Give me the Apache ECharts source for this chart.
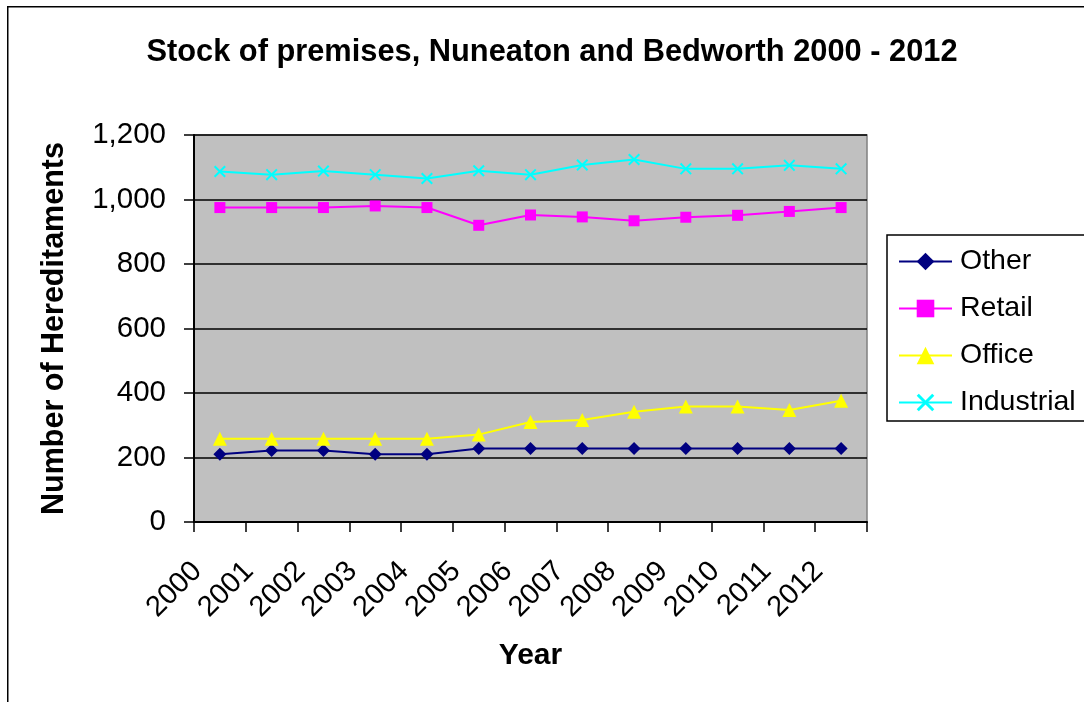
<!DOCTYPE html>
<html>
<head>
<meta charset="utf-8">
<script src="https://cdn.jsdelivr.net/npm/echarts@6/dist/echarts.min.js"></script>
<style>
html,body{margin:0;padding:0;background:#fff;}
#chart{width:1084px;height:702px;}
</style>
</head>
<body>
<div id="chart"></div>
<script>
var years = ['2000','2001','2002','2003','2004','2005','2006','2007','2008','2009','2010','2011','2012'];
var other = [210, 222, 222, 210, 210, 228, 228, 228, 228, 228, 228, 228, 228];
var retail = [975, 975, 975, 980, 975, 920, 952, 946, 934, 945, 951, 963, 975];
var office = [258, 258, 258, 258, 258, 271, 310, 316, 342, 358, 358, 347, 376];
var industrial = [1087, 1077, 1088, 1077, 1065, 1089, 1077, 1107, 1124, 1095, 1095, 1106, 1095];
var yTicks = [0, 200, 400, 600, 800, 1000, 1200];

var FONT = 'Liberation Sans, Arial, sans-serif';
var crossPath = 'path://M0,1.2L1.2,0L5,3.8L8.8,0L10,1.2L6.2,5L10,8.8L8.8,10L5,6.2L1.2,10L0,8.8L3.8,5Z';

var chart = echarts.init(document.getElementById('chart'), null, {renderer: 'canvas'});
function mk(name, data, color, symbol, size) {
  return {
    name: name, type: 'line', data: data,
    symbol: symbol, symbolSize: size, showAllSymbol: true,
    lineStyle: {color: color, width: 2},
    itemStyle: {color: color},
    emphasis: {disabled: true},
    animation: false
  };
}
chart.setOption({
  animation: false,
  textStyle: {fontFamily: FONT},
  graphic: [{
    type: 'rect', left: 7, top: 6, z: -10,
    shape: {width: 1200, height: 800},
    style: {fill: '#ffffff', stroke: '#000000', lineWidth: 1.5}
  }],
  title: {
    text: 'Stock of premises, Nuneaton and Bedworth 2000 - 2012',
    left: 547, top: 32, textAlign: 'center',
    textStyle: {fontFamily: FONT, fontSize: 30.8, fontWeight: 'bold', color: '#000'}
  },
  legend: {
    orient: 'vertical',
    left: 887, top: 235,
    padding: [12, 16, 4, 11],
    itemWidth: 53, itemHeight: 22, itemGap: 18,
    borderColor: '#000', borderWidth: 1.5,
    backgroundColor: '#fff',
    textStyle: {fontFamily: FONT, fontSize: 28.5, color: '#000', lineHeight: 28, padding: [0, 0, 0, 3]},
    data: ['Other', 'Retail', 'Office', 'Industrial']
  },
  grid: {
    left: 194, right: 217, top: 135, bottom: 180,
    show: true, backgroundColor: '#C0C0C0', borderColor: '#808080', borderWidth: 1.5
  },
  xAxis: {
    type: 'category', data: years, boundaryGap: true,
    name: 'Year', nameLocation: 'middle', nameGap: 119,
    nameTextStyle: {fontFamily: FONT, fontSize: 30, fontWeight: 'bold', color: '#000'},
    axisLine: {lineStyle: {color: '#000', width: 2}},
    axisTick: {show: true, length: 10, lineStyle: {color: '#000', width: 1.5}},
    axisLabel: {
      rotate: 45, margin: 22, interval: 0,
      fontFamily: FONT, fontSize: 29, color: '#000',
      padding: [0, 32, 0, 0]
    },
    splitLine: {show: false}
  },
  yAxis: {
    type: 'value', min: 0, max: 1200, interval: 200,
    name: 'Number of Hereditaments', nameLocation: 'middle', nameGap: 124,
    nameTextStyle: {fontFamily: FONT, fontSize: 30.5, fontWeight: 'bold', color: '#000'},
    axisLine: {show: true, lineStyle: {color: '#000', width: 2}},
    axisTick: {show: true, length: 10, lineStyle: {color: '#000', width: 1.5}},
    axisLabel: {
      margin: 28, fontFamily: FONT, fontSize: 29.5, color: '#000',
      formatter: function (v) { return yTicks.indexOf(v) >= 0 ? v.toLocaleString('en-US') : ''; }
    },
    splitLine: {show: true, lineStyle: {color: '#000', width: 1.5}}
  },
  series: [
    mk('Other', other, '#000080', 'diamond', 13),
    mk('Retail', retail, '#FF00FF', 'rect', 11),
    mk('Office', office, '#FFFF00', 'triangle', 14),
    mk('Industrial', industrial, '#00FFFF', crossPath, 12)
  ]
});
</script>
</body>
</html>
